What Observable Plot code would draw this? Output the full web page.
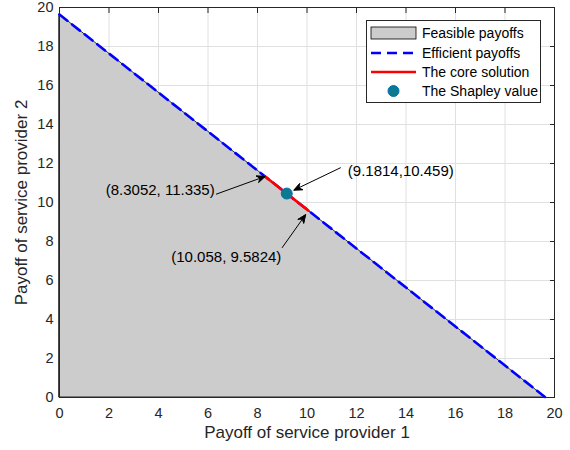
<!DOCTYPE html>
<html><head><meta charset="utf-8">
<script src="https://cdn.jsdelivr.net/npm/d3@7"></script>
<script src="https://cdn.jsdelivr.net/npm/@observablehq/plot@0.6"></script>
<style>
body{margin:0;background:#fff;font-family:"Liberation Sans",Arial,sans-serif;}
#wrap{position:relative;width:570px;height:450px;}
#legend{position:absolute;left:366px;top:20px;}
</style></head><body><div id="wrap"></div>
<script>
// ---- data ----
const efficientX = [0, 19.6402];
const efficientY = [19.6402, 0];
const coreX = [8.3052, 10.058];
const coreY = [11.335, 9.5824];
const shapleyX = [9.1814];
const shapleyY = [10.459];
const tickValues = [0, 2, 4, 6, 8, 10, 12, 14, 16, 18, 20];
const annotationLabels = ["(8.3052, 11.335)", "(9.1814,10.459)", "(10.058, 9.5824)"];
const annotationTextX = [6.27, 11.65, 6.74];
const annotationTextY = [10.62, 11.61, 7.18];
const annotationFromX = [6.34, 11.35, 9.0];
const annotationFromY = [10.43, 11.78, 7.69];
const annotationToX = [8.3052, 9.1814, 10.058];
const annotationToY = [11.335, 10.459, 9.5824];
const legendLabels = ["Feasible payoffs", "Efficient payoffs", "The core solution", "The Shapley value"];

const efficient = efficientX.map((x, i) => ({x, y: efficientY[i]}));
const core = coreX.map((x, i) => ({x, y: coreY[i]}));
const shapley = shapleyX.map((x, i) => ({x, y: shapleyY[i]}));
const ann = annotationLabels.map((label, i) => ({
  label, tx: annotationTextX[i], ty: annotationTextY[i],
  x1: annotationFromX[i], y1: annotationFromY[i], x2: annotationToX[i], y2: annotationToY[i]
}));

const axisColor = "#262626";
const font = "'Liberation Sans', Arial, sans-serif";
const arrowOpts = {x1: "x1", y1: "y1", x2: "x2", y2: "y2", stroke: "#000", strokeWidth: 1, headLength: 13, headAngle: 46};
const chart = Plot.plot({
  width: 570, height: 450,
  marginLeft: 59, marginRight: 16, marginTop: 7, marginBottom: 53,
  style: {fontFamily: font, fontSize: "14px", color: axisColor, background: "#fff", overflow: "visible"},
  x: {domain: [0, 20]},
  y: {domain: [0, 20]},
  marks: [
    Plot.gridX(tickValues, {stroke: "#e0e0e0", strokeOpacity: 1}),
    Plot.gridY(tickValues, {stroke: "#e0e0e0", strokeOpacity: 1}),
    Plot.axisX(tickValues, {anchor: "top", tickSize: 5, dy: 5, text: null, label: null, stroke: axisColor}),
    Plot.axisY(tickValues, {anchor: "right", tickSize: 5, dx: -5, text: null, label: null, stroke: axisColor}),
    Plot.axisX(tickValues, {anchor: "bottom", tickSize: 0, tickPadding: 10, label: null, fill: axisColor, fontSize: 14.5}),
    Plot.axisY(tickValues, {anchor: "left", tickSize: 0, tickPadding: 6, label: null, fill: axisColor, fontSize: 14.5}),
    Plot.areaY(efficient, {x: "x", y: "y", fill: "#cccccc", fillOpacity: 1, stroke: "#000", strokeWidth: 0.8}),
    Plot.line(efficient, {x: "x", y: "y", stroke: "#0000ff", strokeWidth: 2.6, strokeDasharray: "10,6"}),
    Plot.line(core, {x: "x", y: "y", stroke: "#ff0000", strokeWidth: 2.6}),
    Plot.dot(shapley, {x: "x", y: "y", r: 5.5, fill: "#0b7a8c", stroke: "#0072BD", strokeWidth: 1}),
    Plot.arrow([ann[0]], {...arrowOpts}),
    Plot.arrow([ann[1]], {...arrowOpts, insetEnd: 8}),
    Plot.arrow([ann[2]], {...arrowOpts, insetEnd: 5}),
    Plot.text([ann[0]], {x: "tx", y: "ty", text: "label", textAnchor: "end", fontSize: 15, fill: "#000"}),
    Plot.text([ann[1]], {x: "tx", y: "ty", text: "label", textAnchor: "start", fontSize: 15, fill: "#000"}),
    Plot.text([ann[2]], {x: "tx", y: "ty", text: "label", textAnchor: "middle", fontSize: 15, fill: "#000"}),
    Plot.text(["Payoff of service provider 1"], {frameAnchor: "bottom", dy: 40, fontSize: 17, fill: axisColor}),
    Plot.text(["Payoff of service provider 2"], {frameAnchor: "left", textAnchor: "middle", dx: -38, rotate: -90, fontSize: 17, fill: axisColor}),
    Plot.frame({stroke: axisColor, strokeWidth: 1})
  ]
});
const wrap = document.getElementById("wrap");
wrap.appendChild(chart);

// fill the arrowheads (MATLAB-style solid heads)
d3.select(chart).selectAll('g[aria-label="arrow"] path').each(function () {
  const d = this.getAttribute("d") || "";
  const n = (d.match(/-?\d*\.?\d+(?:e-?\d+)?/gi) || []).map(Number);
  if (n.length < 6) return;
  const [ax, ay, tx, ty, bx, by] = n.slice(-6);
  const mx = (ax + bx) / 2, my = (ay + by) / 2;
  const nx = tx + 0.72 * (mx - tx), ny = ty + 0.72 * (my - ty);
  d3.select(this.parentNode).append("path")
    .attr("d", `M${ax},${ay}L${tx},${ty}L${bx},${by}L${nx},${ny}Z`)
    .attr("fill", "#000").attr("stroke", "#000").attr("stroke-width", 0.8).attr("stroke-linejoin", "miter");
});

// ---- legend ----
const lg = d3.create("svg").attr("id", "legend").attr("width", 176).attr("height", 84);
lg.append("rect").attr("x", 0.5).attr("y", 0.5).attr("width", 174).attr("height", 82)
  .attr("fill", "#fff").attr("stroke", axisColor).attr("stroke-width", 1);
const rowY = [13, 33, 52, 71];
const sx1 = 5, sx2 = 50, tx = 56;
lg.append("rect").attr("x", sx1).attr("y", rowY[0] - 6).attr("width", sx2 - sx1).attr("height", 12)
  .attr("fill", "#cccccc").attr("stroke", "#000").attr("stroke-width", 0.8);
lg.append("line").attr("x1", sx1).attr("x2", sx2).attr("y1", rowY[1]).attr("y2", rowY[1])
  .attr("stroke", "#0000ff").attr("stroke-width", 2.6).attr("stroke-dasharray", "10,6");
lg.append("line").attr("x1", sx1).attr("x2", sx2).attr("y1", rowY[2]).attr("y2", rowY[2])
  .attr("stroke", "#ff0000").attr("stroke-width", 2.6);
lg.append("circle").attr("cx", (sx1 + sx2) / 2).attr("cy", rowY[3]).attr("r", 5.5)
  .attr("fill", "#0b7a8c").attr("stroke", "#0072BD");
legendLabels.forEach((t, i) => {
  lg.append("text").attr("x", tx).attr("y", rowY[i]).attr("dy", "0.35em")
    .attr("font-size", 14).attr("font-family", font)
    .attr("fill", "#000").text(t);
});
wrap.appendChild(lg.node());
</script></body></html>
